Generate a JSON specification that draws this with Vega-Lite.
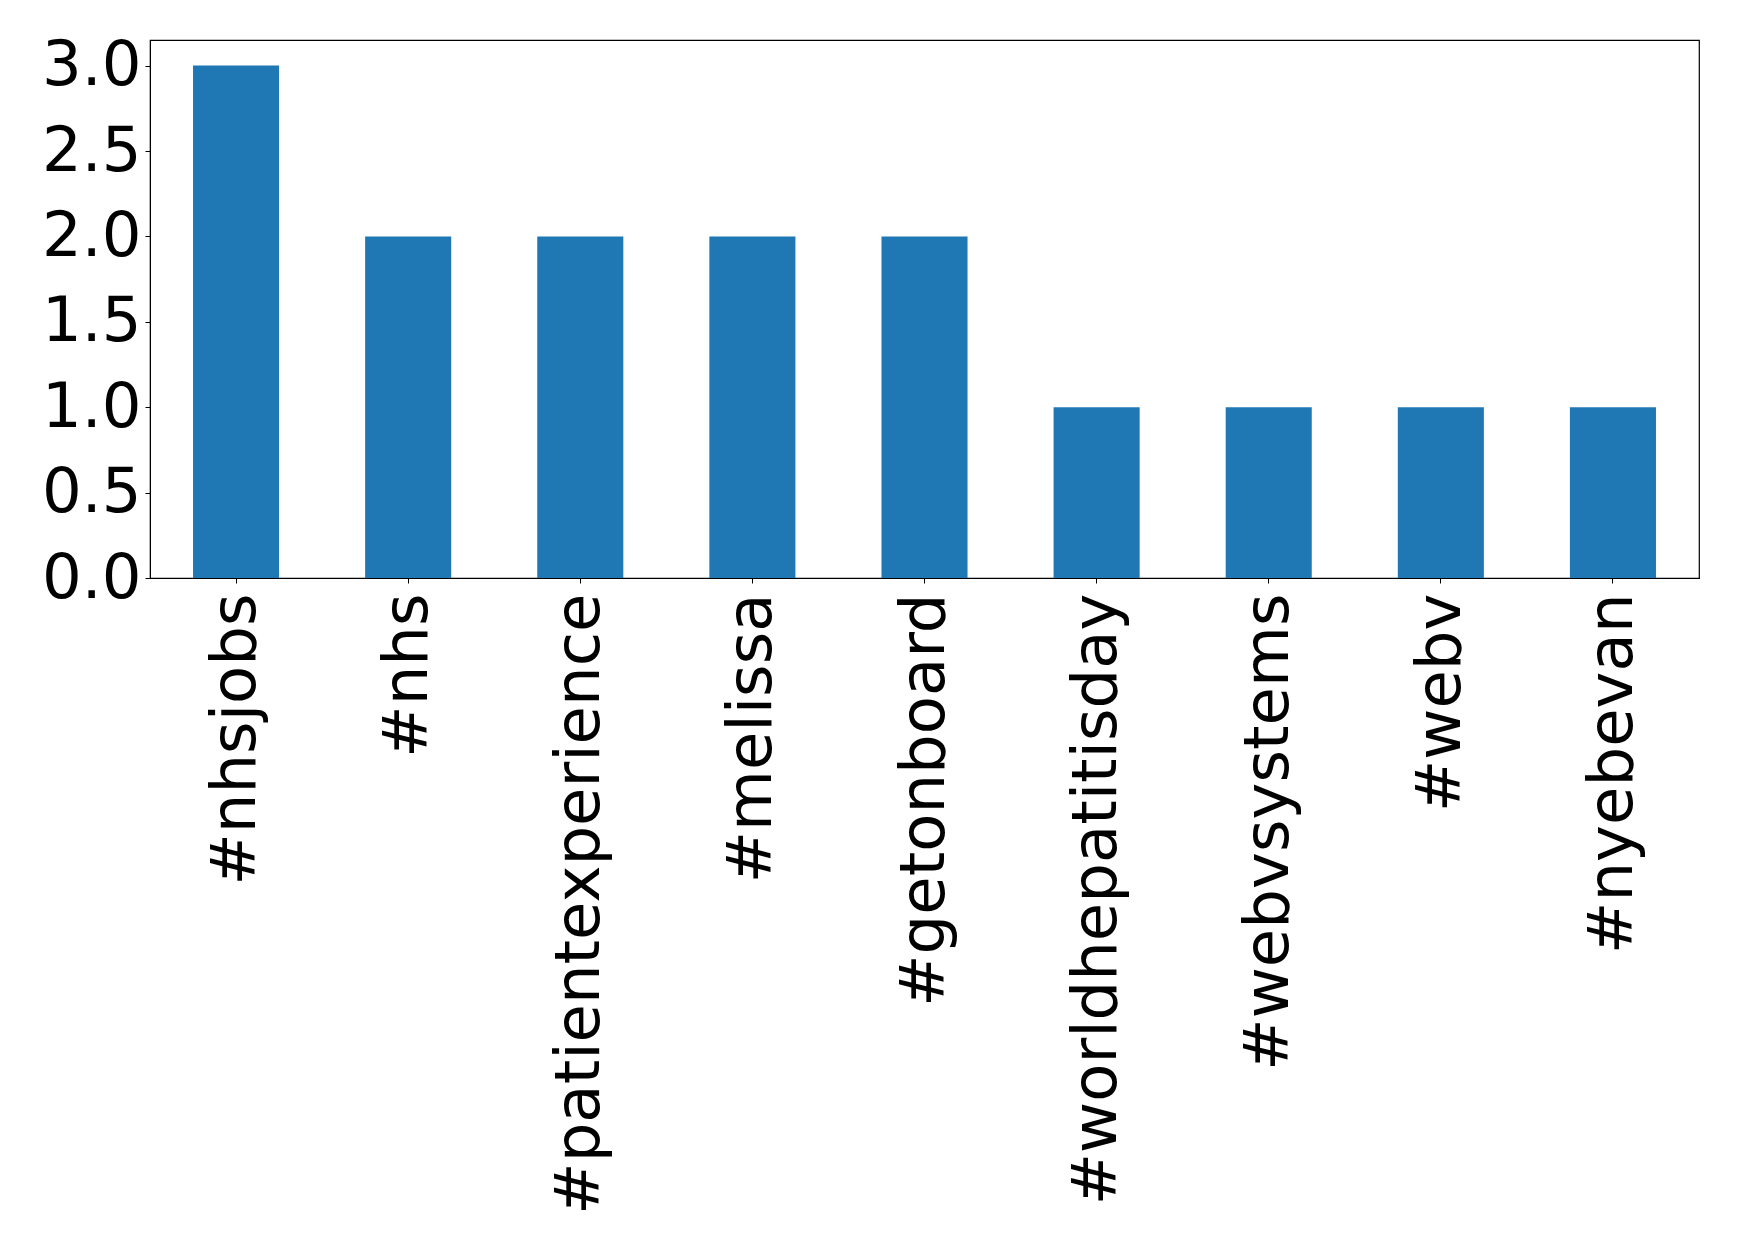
{
  "$schema": "https://vega.github.io/schema/vega-lite/v6.json",
  "autosize": {"type": "none"},
  "width": 1549,
  "height": 538,
  "padding": {"left": 150, "top": 40, "right": 40, "bottom": 671},
  "background": "white",
  "config": {
    "view": {"stroke": "black", "strokeWidth": 1.2},
    "font": "DejaVu Sans",
    "axis": {
      "labelFont": "DejaVu Sans",
      "labelFontSize": 62.5,
      "labelColor": "black",
      "domainColor": "black",
      "tickColor": "black",
      "tickSize": 5,
      "tickWidth": 1,
      "grid": false,
      "title": null
    }
  },
  "data": {
    "values": [
      {"hashtag": "#nhsjobs", "count": 3},
      {"hashtag": "#nhs", "count": 2},
      {"hashtag": "#patientexperience", "count": 2},
      {"hashtag": "#melissa", "count": 2},
      {"hashtag": "#getonboard", "count": 2},
      {"hashtag": "#worldhepatitisday", "count": 1},
      {"hashtag": "#webvsystems", "count": 1},
      {"hashtag": "#webv", "count": 1},
      {"hashtag": "#nyebevan", "count": 1}
    ]
  },
  "mark": {"type": "bar", "color": "#1f77b4"},
  "encoding": {
    "x": {
      "field": "hashtag",
      "type": "nominal",
      "sort": null,
      "scale": {"paddingInner": 0.5, "paddingOuter": 0.25},
      "axis": {"labelAngle": -90, "labelPadding": 10, "labelAlign": "right", "labelBaseline": "middle", "labelLimit": 0}
    },
    "y": {
      "field": "count",
      "type": "quantitative",
      "scale": {"domain": [0, 3.15], "nice": false},
      "axis": {"values": [0, 0.5, 1, 1.5, 2, 2.5, 3], "format": ".1f", "labelPadding": 4}
    }
  }
}
